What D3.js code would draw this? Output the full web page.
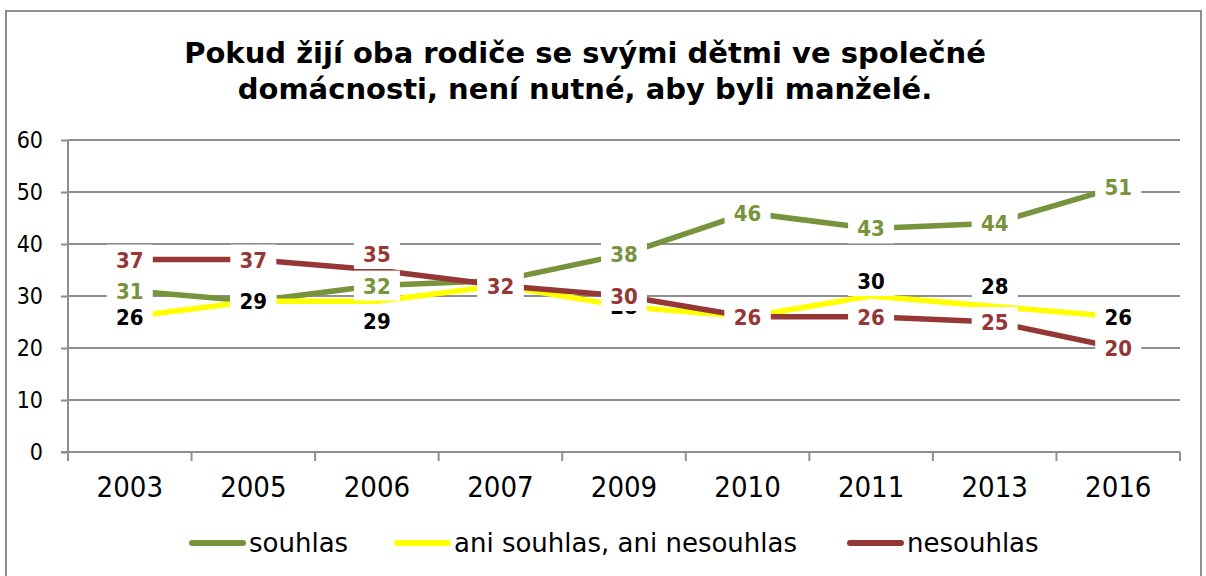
<!DOCTYPE html>
<html>
<head>
<meta charset="utf-8">
<script src="https://cdn.jsdelivr.net/npm/d3@7"></script>
<style>
  html, body { margin: 0; padding: 0; background: #fff; }
  svg { display: block; }
</style>
</head>
<body>
<div id="chart"></div>
<script>
const years = ['2003', '2005', '2006', '2007', '2009', '2010', '2011', '2013', '2016'];
const souhlas = [31, 29, 32, 33, 38, 46, 43, 44, 51];
const ani = [26, 29, 29, 32, 28, 26, 30, 28, 26];
const nesouhlas = [37, 37, 35, 32, 30, 26, 26, 25, 20];
const yTicks = [0, 10, 20, 30, 40, 50, 60];
const titleLines = ['Pokud žijí oba rodiče se svými dětmi ve společné', 'domácnosti, není nutné, aby byli manželé.'];

const series = [
  { name: 'souhlas', values: souhlas, color: '#77933c', labelColor: '#77933c' },
  { name: 'ani souhlas, ani nesouhlas', values: ani, color: '#ffff00', labelColor: '#000' },
  { name: 'nesouhlas', values: nesouhlas, color: '#953735', labelColor: '#953735' }
];

// manual label nudges (px), as moved by hand in the original
const labelNudge = {
  'ani souhlas, ani nesouhlas': { '2006': 20, '2011': -15, '2013': -20 },
  'nesouhlas': { '2006': -16 }
};

const W = 1206, H = 576;
const plot = { left: 68, right: 1180, top: 140, bottom: 452 };
const gridColor = '#8e8e8e';
const font = '"DejaVu Sans Condensed", "DejaVu Sans", sans-serif';
const wideFont = '"DejaVu Sans", sans-serif';

const svg = d3.select('#chart').append('svg')
  .attr('width', W)
  .attr('height', H)
  .style('font-family', font);

// outer frame
svg.append('rect')
  .attr('x', 6).attr('y', 11)
  .attr('width', 1195).attr('height', 600)
  .attr('fill', 'none')
  .attr('stroke', gridColor)
  .attr('stroke-width', 2);

// title
svg.append('g').selectAll('text')
  .data(titleLines)
  .join('text')
  .attr('x', 585)
  .attr('y', (d, i) => 63 + i * 36)
  .attr('text-anchor', 'middle')
  .attr('font-family', wideFont)
  .attr('font-size', 29)
  .attr('font-weight', 'bold')
  .text(d => d);

const x = d3.scaleBand().domain(years).range([plot.left, plot.right]).padding(0);
const y = d3.scaleLinear().domain([0, 60]).range([plot.bottom, plot.top]);
const cx = d => x(d) + x.bandwidth() / 2;

// gridlines
svg.append('g').selectAll('line')
  .data(yTicks.filter(t => t > 0))
  .join('line')
  .attr('x1', plot.left).attr('x2', plot.right)
  .attr('y1', d => y(d)).attr('y2', d => y(d))
  .attr('stroke', gridColor)
  .attr('stroke-width', 2);

// y axis
const yAxis = svg.append('g')
  .attr('transform', `translate(${plot.left},0)`)
  .call(d3.axisLeft(y).tickValues(yTicks).tickSize(7).tickPadding(18));
yAxis.select('.domain').attr('stroke', gridColor).attr('stroke-width', 2).attr('d', `M0,${plot.top}V${plot.bottom + 1}`);
yAxis.selectAll('.tick line').attr('stroke', gridColor).attr('stroke-width', 2);
yAxis.selectAll('.tick text')
  .attr('font-family', font)
  .attr('font-size', 23)
  .attr('fill', '#000');

// x axis
const xAxis = svg.append('g')
  .attr('transform', `translate(0,${plot.bottom})`)
  .call(d3.axisBottom(x).tickSize(0).tickPadding(24));
xAxis.select('.domain').remove();
xAxis.selectAll('.tick text')
  .attr('font-family', font)
  .attr('font-size', 29)
  .attr('dy', '0.71em')
  .attr('fill', '#000');
svg.append('line')
  .attr('x1', plot.left - 7).attr('x2', plot.right)
  .attr('y1', plot.bottom).attr('y2', plot.bottom)
  .attr('stroke', gridColor).attr('stroke-width', 2);
svg.append('g').selectAll('line')
  .data(d3.range(years.length + 1))
  .join('line')
  .attr('x1', i => plot.left + i * x.step())
  .attr('x2', i => plot.left + i * x.step())
  .attr('y1', plot.bottom).attr('y2', plot.bottom + 9)
  .attr('stroke', gridColor).attr('stroke-width', 2);

// lines
const line = d3.line()
  .x((d, i) => cx(years[i]))
  .y(d => y(d));

svg.append('g').selectAll('path')
  .data(series)
  .join('path')
  .attr('d', s => line(s.values))
  .attr('fill', 'none')
  .attr('stroke', s => s.color)
  .attr('stroke-width', 5.5)
  .attr('stroke-linejoin', 'round');

// data labels with white boxes
const labels = svg.append('g');
series.forEach(s => {
  s.values.forEach((v, i) => {
    const nudge = (labelNudge[s.name] || {})[years[i]] || 0;
    const lx = cx(years[i]);
    const ly = y(v) + nudge;
    const g = labels.append('g').attr('transform', `translate(${lx},${ly})`);
    g.append('rect')
      .attr('x', -23).attr('y', -15)
      .attr('width', 46).attr('height', 30)
      .attr('fill', '#fff');
    g.append('text')
      .attr('text-anchor', 'middle')
      .attr('dy', '0.36em')
      .attr('font-size', 22)
      .attr('font-weight', 'bold')
      .attr('fill', s.labelColor)
      .text(v);
  });
});

// legend
const legendX = [190, 395, 848];
const legend = svg.append('g').selectAll('g')
  .data(series)
  .join('g')
  .attr('transform', (d, i) => `translate(${legendX[i]},543)`);
legend.append('line')
  .attr('x1', 2).attr('x2', 53)
  .attr('stroke', d => d.color)
  .attr('stroke-width', 6)
  .attr('stroke-linecap', 'round');
legend.append('text')
  .attr('x', 59)
  .attr('dy', '0.35em')
  .attr('font-family', wideFont)
  .attr('font-size', 26)
  .attr('fill', '#000')
  .text(d => d.name);
</script>
</body>
</html>
